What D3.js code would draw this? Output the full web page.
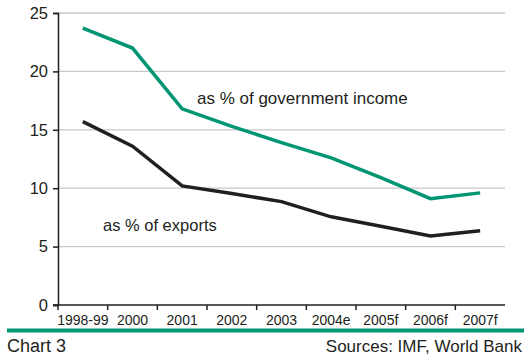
<!DOCTYPE html>
<html>
<head>
<meta charset="utf-8">
<script src="https://cdn.jsdelivr.net/npm/d3@7"></script>
<style>
  body { margin: 0; background: #fff; }
  svg text { font-family: "Liberation Sans", Arial, sans-serif; fill: #231f20; }
</style>
</head>
<body>
<svg></svg>
<script>
var years = ["1998-99", "2000", "2001", "2002", "2003", "2004e", "2005f", "2006f", "2007f"];
var govIncome = [23.7, 22.0, 16.8, 15.3, 13.9, 12.6, 10.9, 9.1, 9.6];
var exportsPct = [15.7, 13.6, 10.2, 9.55, 8.85, 7.55, 6.75, 5.9, 6.35];
var yTicks = [0, 5, 10, 15, 20, 25];

var width = 524, height = 357;
var margin = { left: 58, right: 19, top: 13, bottom: 52 };
var green = "#009673", dark = "#231f20";

var svg = d3.select("svg").attr("width", width).attr("height", height);

var x = d3.scaleBand().domain(years).range([margin.left, width - margin.right]);
var y = d3.scaleLinear().domain([0, 25]).range([height - margin.bottom, margin.top]);

// gridlines
svg.append("g").selectAll("line")
  .data(yTicks.filter(d => d > 0))
  .enter().append("line")
  .attr("x1", margin.left).attr("x2", width - margin.right)
  .attr("y1", d => y(d)).attr("y2", d => y(d))
  .attr("stroke", "#c8c8c8").attr("stroke-width", 1.3);

// y axis
var yAxis = svg.append("g")
  .attr("transform", "translate(" + margin.left + ",0)")
  .call(d3.axisLeft(y).tickValues(yTicks).tickSize(5).tickPadding(5));
yAxis.select(".domain").attr("stroke", dark).attr("stroke-width", 1.5);
yAxis.selectAll(".tick line").attr("stroke", dark).attr("stroke-width", 1.5);
yAxis.selectAll("text").style("font-size", "16.5px").attr("fill", dark);

// x axis with ticks at band edges
var xAxis = svg.append("g")
  .attr("transform", "translate(0," + y(0) + ")");
xAxis.append("line")
  .attr("x1", margin.left - 5).attr("x2", width - margin.right)
  .attr("stroke", dark).attr("stroke-width", 1.5);
xAxis.selectAll(".edge")
  .data(years)
  .enter().append("line")
  .attr("class", "edge")
  .attr("x1", d => x(d)).attr("x2", d => x(d))
  .attr("y1", 0).attr("y2", 5)
  .attr("stroke", dark).attr("stroke-width", 1.5);
xAxis.selectAll(".lbl")
  .data(years)
  .enter().append("text")
  .attr("class", "lbl")
  .attr("x", d => x(d) + x.bandwidth() / 2)
  .attr("y", 20)
  .attr("text-anchor", "middle")
  .style("font-size", "14px")
  .text(d => d);

// lines
var line = d3.line()
  .x((d, i) => x(years[i]) + x.bandwidth() / 2)
  .y(d => y(d));

svg.append("path").datum(govIncome)
  .attr("d", line).attr("fill", "none")
  .attr("stroke", green).attr("stroke-width", 3.5);
svg.append("path").datum(exportsPct)
  .attr("d", line).attr("fill", "none")
  .attr("stroke", dark).attr("stroke-width", 3.5);

// series labels
svg.append("text").attr("x", 197).attr("y", 104)
  .style("font-size", "17px").text("as % of government income");
svg.append("text").attr("x", 103).attr("y", 231)
  .style("font-size", "16.5px").text("as % of exports");

// footer
svg.append("line")
  .attr("x1", 7).attr("x2", width).attr("y1", 330.5).attr("y2", 330.5)
  .attr("stroke", green).attr("stroke-width", 4);
svg.append("text").attr("x", 7).attr("y", 352)
  .style("font-size", "18px").text("Chart 3");
svg.append("text").attr("x", 522).attr("y", 352)
  .attr("text-anchor", "end")
  .style("font-size", "17px").text("Sources: IMF, World Bank");
</script>
</body>
</html>
